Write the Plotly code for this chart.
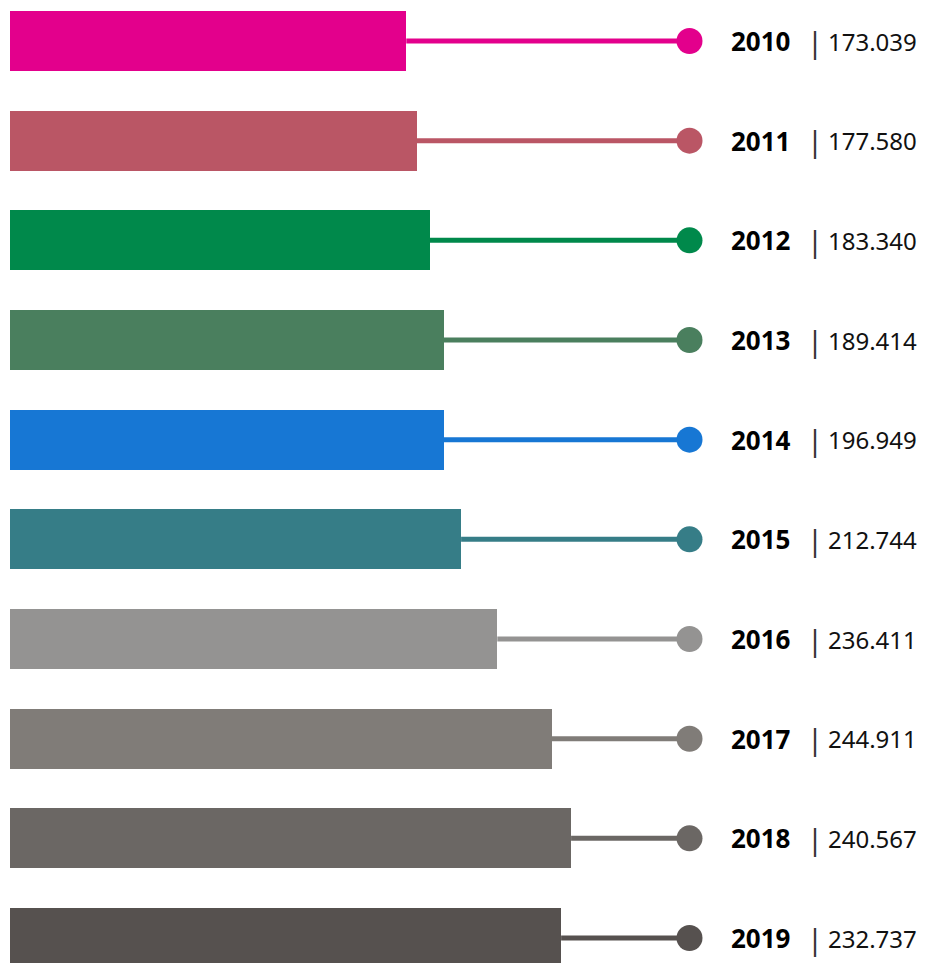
import plotly.graph_objects as go

# ---- data ----
years = ["2010", "2011", "2012", "2013", "2014", "2015", "2016", "2017", "2018", "2019"]
labels = ["173.039", "177.580", "183.340", "189.414", "196.949",
          "212.744", "236.411", "244.911", "240.567", "232.737"]
# bar lengths as drawn in the picture (in thousands)
bar_values = [173.039, 177.580, 183.340, 189.414, 189.414,
              196.949, 212.744, 236.411, 244.911, 240.567]
colors = ["#E3008C", "#BA5665", "#00894B", "#4A7F5E", "#1777D4",
          "#367D87", "#949392", "#807C78", "#6B6764", "#56514F"]

# ---- layout constants (page body has an 8px margin) ----
OFF = 8
W, H = 927 - OFF, 963 - OFF
scale = 2.293          # px per unit
x0_px = 9.5 - OFF      # pixel of zero inside the figure
dot_x = (689.5 - OFF - x0_px) / scale
year_x = (793 - OFF - x0_px) / scale
pipe_x = (815 - OFF - x0_px) / scale
val_x = (826 - OFF - x0_px) / scale
row_px = 99.67
first_px = 41 - OFF

ypos = list(range(len(years)))

fig = go.Figure()
fig.add_trace(go.Bar(
    y=ypos, x=bar_values, orientation="h",
    marker=dict(color=colors, line=dict(width=0)),
    width=60 / row_px, hoverinfo="skip", showlegend=False,
))

for i, (v, c) in enumerate(zip(bar_values, colors)):
    fig.add_trace(go.Scatter(
        x=[v, dot_x], y=[i, i], mode="lines",
        line=dict(color=c, width=5), hoverinfo="skip", showlegend=False,
    ))

fig.add_trace(go.Scatter(
    x=[dot_x] * len(years), y=ypos, mode="markers",
    marker=dict(color=colors, size=26, line=dict(width=0)),
    hoverinfo="skip", showlegend=False,
))

font_family = "Noto Sans"
for i, (yr, lab) in enumerate(zip(years, labels)):
    fig.add_annotation(x=year_x, y=i, text="<b>" + yr + "</b>", showarrow=False,
                       xanchor="right", yanchor="middle",
                       font=dict(family=font_family, size=26, color="#000000"))
    fig.add_annotation(x=pipe_x, y=i, text="|", showarrow=False,
                       xanchor="center", yanchor="middle",
                       font=dict(family=font_family, size=29, color="#333333"))
    fig.add_annotation(x=val_x, y=i, text=lab, showarrow=False,
                       xanchor="left", yanchor="middle",
                       font=dict(family=font_family, size=24, color="#111111"))

fig.update_layout(
    width=W, height=H,
    margin=dict(l=0, r=0, t=0, b=0),
    paper_bgcolor="white", plot_bgcolor="white",
    bargap=0,
    xaxis=dict(range=[-x0_px / scale, (W - x0_px) / scale], visible=False,
               fixedrange=True),
    yaxis=dict(range=[(H - first_px) / row_px, -first_px / row_px], visible=False,
               fixedrange=True),
)

fig.write_html("out.html")
